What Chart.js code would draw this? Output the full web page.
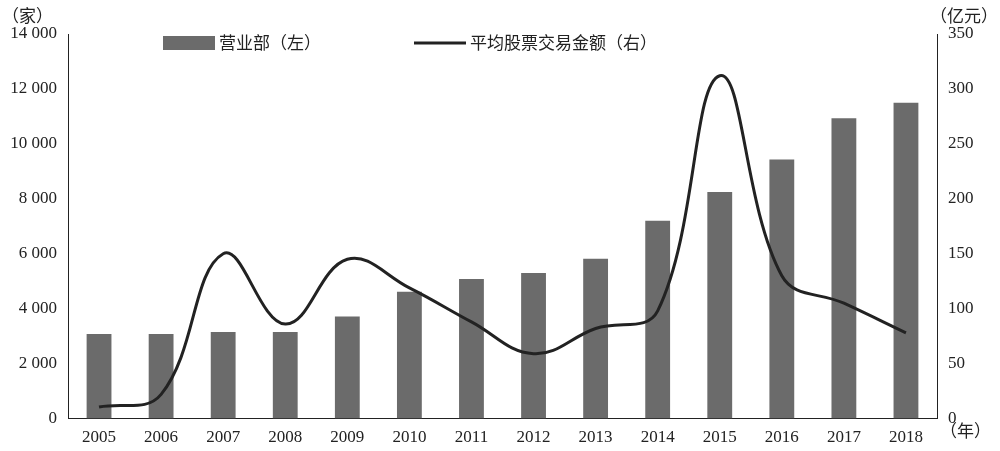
<!DOCTYPE html>
<html><head><meta charset="utf-8">
<script src="https://cdn.jsdelivr.net/npm/chart.js@4"></script>
<style>body{margin:0;background:#fff}</style>
</head><body>
<canvas id="c" width="1000" height="451"></canvas>
<script>
var years = ["2005","2006","2007","2008","2009","2010","2011","2012","2013","2014","2015","2016","2017","2018"];
var branches = [3080,3080,3150,3150,3720,4620,5080,5300,5820,7200,8250,9430,10930,11500];
var avgTrade = [10.5,22,150,86,145,119,88,59,82,98,312,130,105,78];

var serif = "'Liberation Serif','Noto Sans CJK SC',serif";
var cjk = "'Noto Sans CJK SC',sans-serif";

function fmt(v) {
  return v >= 1000 ? Math.floor(v / 1000) + " " + String(v % 1000).padStart(3, "0") : String(v);
}

var extras = {
  id: "extras",
  afterDraw: function (chart) {
    var ctx = chart.ctx;
    ctx.save();
    ctx.fillStyle = "#222";
    ctx.font = "17px " + cjk;
    ctx.textBaseline = "middle";
    ctx.textAlign = "left";
    ctx.fillText("（家）", 2, 16);
    ctx.textAlign = "right";
    ctx.fillText("（亿元）", 998, 16);
    ctx.textAlign = "left";
    ctx.fillText("（年）", 940, 431);
    // legend
    ctx.fillStyle = "#6b6b6b";
    ctx.fillRect(163, 36, 52, 14);
    ctx.fillStyle = "#222";
    ctx.fillText("营业部（左）", 219, 43);
    ctx.strokeStyle = "#222";
    ctx.lineWidth = 3;
    ctx.beginPath();
    ctx.moveTo(414, 43);
    ctx.lineTo(466, 43);
    ctx.stroke();
    ctx.fillText("平均股票交易金额（右）", 470, 43);
    ctx.restore();
  }
};

new Chart(document.getElementById("c"), {
  data: {
    labels: years,
    datasets: [
      {
        type: "line",
        label: "平均股票交易金额（右）",
        data: avgTrade,
        yAxisID: "y1",
        borderColor: "#222",
        borderWidth: 3,
        pointRadius: 0,
        tension: 0.4,
        fill: false
      },
      {
        type: "bar",
        label: "营业部（左）",
        data: branches,
        yAxisID: "y",
        backgroundColor: "#6b6b6b",
        barPercentage: 0.4,
        categoryPercentage: 1
      }
    ]
  },
  options: {
    responsive: false,
    animation: false,
    layout: { padding: { left: 0, right: 0, top: 34, bottom: 0 } },
    plugins: { legend: { display: false }, tooltip: { enabled: false } },
    scales: {
      x: {
        grid: { display: false, drawTicks: true, tickLength: 6, color: "#222" },
        border: { color: "#222" },
        ticks: { color: "#222", font: { family: serif, size: 17 } }
      },
      y: {
        position: "left",
        min: 0, max: 14000,
        afterFit: function (s) { s.width = 68; },
        grid: { display: false },
        border: { color: "#222" },
        ticks: { stepSize: 2000, color: "#222", font: { family: serif, size: 17 }, callback: fmt }
      },
      y1: {
        position: "right",
        min: 0, max: 350,
        afterFit: function (s) { s.width = 63; },
        grid: { display: false },
        border: { color: "#222" },
        ticks: { stepSize: 50, color: "#222", font: { family: serif, size: 17 } }
      }
    }
  },
  plugins: [extras]
});
</script>
</body></html>
